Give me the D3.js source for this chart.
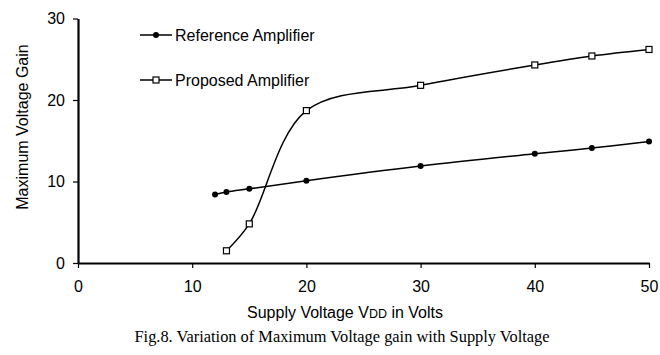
<!DOCTYPE html>
<html><head><meta charset="utf-8">
<script src="https://cdn.jsdelivr.net/npm/d3@7"></script>
<style>body{margin:0;background:#fff}svg{display:block}</style>
</head><body>
<svg id="c" width="660" height="355"></svg>
<script>
const refX = [12, 13, 15, 20, 30, 40, 45, 50];
const refY = [8.4, 8.7, 9.1, 10.1, 11.9, 13.4, 14.1, 14.9];
const propX = [13, 15, 20, 30, 40, 45, 50];
const propY = [1.5, 4.8, 18.7, 21.8, 24.3, 25.4, 26.2];
const xTicks = [0, 10, 20, 30, 40, 50];
const yTicks = [0, 10, 20, 30];
const seriesNames = ["Reference Amplifier", "Proposed Amplifier"];

const svg = d3.select("#c");
const x = d3.scaleLinear().domain([0, 50]).range([78, 649]);
const y = d3.scaleLinear().domain([0, 30]).range([263, 18.5]);
const font = "Arial, 'Liberation Sans', sans-serif";

const xa = svg.append("g").attr("transform", "translate(0,263)")
  .call(d3.axisBottom(x).tickValues(xTicks).tickSize(5).tickPadding(13).tickSizeOuter(0));
const ya = svg.append("g").attr("transform", "translate(78,0)")
  .call(d3.axisLeft(y).tickValues(yTicks).tickSize(5).tickPadding(8).tickSizeOuter(0));
[xa, ya].forEach(a => {
  a.select(".domain").attr("stroke", "#000").attr("stroke-width", 2.2);
  a.selectAll(".tick line").attr("stroke", "#000").attr("stroke-width", 1.2);
  a.selectAll("text").attr("font-family", font).attr("font-size", 16).attr("fill", "#000");
});

const curve = d3.curveCatmullRom.alpha(0.5);
const line = d3.line().x(d => x(d[0])).y(d => y(d[1])).curve(curve);
const ref = refX.map((v, i) => [v, refY[i]]);
const prop = propX.map((v, i) => [v, propY[i]]);

svg.append("path").datum(ref).attr("d", line).attr("fill", "none").attr("stroke", "#000").attr("stroke-width", 1.5);
svg.append("path").datum(prop).attr("d", line).attr("fill", "none").attr("stroke", "#000").attr("stroke-width", 1.5);

svg.selectAll(".rp").data(ref).enter().append("circle")
  .attr("cx", d => x(d[0])).attr("cy", d => y(d[1])).attr("r", 3).attr("fill", "#000");
svg.selectAll(".pp").data(prop).enter().append("rect")
  .attr("x", d => x(d[0]) - 3).attr("y", d => y(d[1]) - 3).attr("width", 6).attr("height", 6)
  .attr("fill", "#fff").attr("stroke", "#000").attr("stroke-width", 1.2);

// legend
const lg = [35, 80];
lg.forEach((ly, i) => {
  svg.append("line").attr("x1", 140).attr("x2", 172).attr("y1", ly).attr("y2", ly).attr("stroke", "#000").attr("stroke-width", 1.5);
  if (i === 0) svg.append("circle").attr("cx", 156).attr("cy", ly).attr("r", 3).attr("fill", "#000");
  else svg.append("rect").attr("x", 153).attr("y", ly - 3).attr("width", 6).attr("height", 6).attr("fill", "#fff").attr("stroke", "#000").attr("stroke-width", 1.2);
  svg.append("text").attr("x", 175).attr("y", ly + 6).attr("font-family", font).attr("font-size", 16).text(seriesNames[i]);
});

svg.append("text").attr("transform", "translate(28,127) rotate(-90)").attr("text-anchor", "middle")
  .attr("font-family", font).attr("font-size", 16).text("Maximum Voltage Gain");

const xt = svg.append("text").attr("x", 345).attr("y", 318).attr("text-anchor", "middle")
  .attr("font-family", font).attr("font-size", 16);
xt.append("tspan").text("Supply Voltage V");
xt.append("tspan").attr("font-size", 12.5).text("DD");
xt.append("tspan").text(" in Volts");

svg.append("text").attr("x", 342).attr("y", 342).attr("text-anchor", "middle")
  .attr("font-family", "'Liberation Serif', 'Times New Roman', serif").attr("font-size", 16)
  .attr("textLength", 415).attr("lengthAdjust", "spacingAndGlyphs")
  .text("Fig.8. Variation of Maximum Voltage gain with Supply Voltage");
</script>
</body></html>
